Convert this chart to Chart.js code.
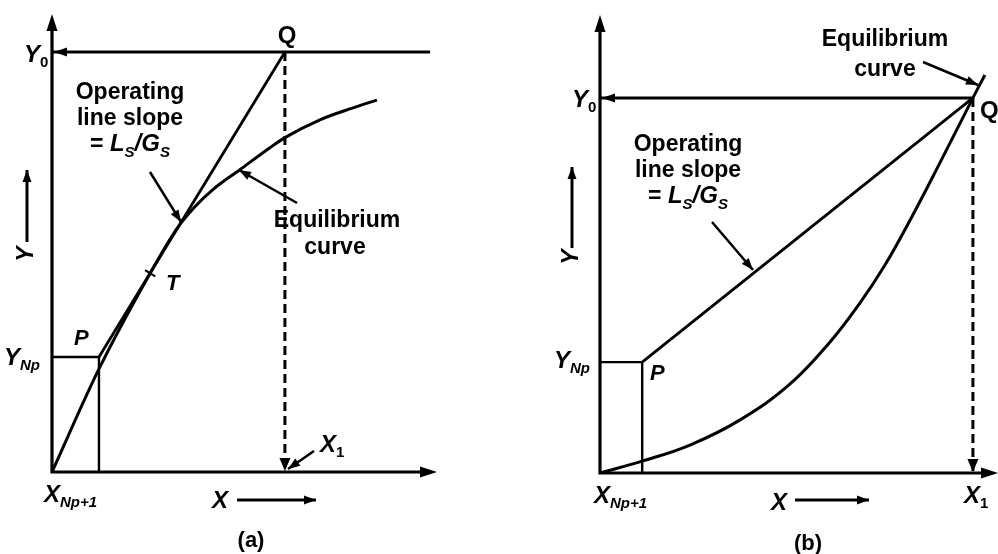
<!DOCTYPE html>
<html>
<head>
<meta charset="utf-8">
<script src="https://cdn.jsdelivr.net/npm/chart.js"></script>
<style>
  html, body { margin: 0; padding: 0; background: #fff; }
  #wrap { position: relative; width: 998px; height: 554px; overflow: hidden; }
  canvas { position: absolute; top: 0; }
  #chartA { left: 0; }
  #chartB { left: 500px; }
</style>
</head>
<body>
<div id="wrap">
  <canvas id="chartA" width="500" height="554"></canvas>
  <canvas id="chartB" width="498" height="554"></canvas>
</div>
<script>
// (a) equilibrium curve that bends over, operating line touches it at T
const eqAX = [0, 12.2, 25.5, 32.5, 37.0, 42.0, 48.8, 56.6, 60.5, 69.6, 78.2, 84.4];
const eqAY = [0, 22.5, 43.4, 53.2, 57.8, 61.8, 66.0, 70.8, 73.0, 76.9, 79.5, 81.2];
const opAX = [12.2, 60.5];      // P -> Q
const opAY = [25.1, 91.7];
const y0AEnd = 98.2;            // Y0 line runs past Q
const tA = [25.5, 43.4];        // tangent point T

// (b) equilibrium curve bending up to Q
const eqBX = [0, 10.6, 22.6, 35.2, 47.7, 57.8, 65.3, 71.6, 77.9, 85.4, 93.7, 96.7];
const eqBY = [0, 2.6, 6.1, 11.6, 19.4, 28.6, 37.1, 45.4, 55.2, 67.7, 81.9, 86.9];
const opBX = [10.6, 93.7];      // P -> Q
const opBY = [24.2, 81.9];

const F = '"Liberation Sans", Arial, Helvetica, sans-serif';
const TXT = 'bold 23px ' + F;
const IT = 'italic bold 24px ' + F;
const SUB = 'italic bold 15px ' + F;
const SUBU = 'bold 15px ' + F;

function pts(xs, ys) { return xs.map((x, i) => ({ x: x, y: ys[i] })); }

function lineSet(data, width, extra) {
  return Object.assign({
    data: data, showLine: true, borderColor: '#000', borderWidth: width,
    pointRadius: 0, fill: false
  }, extra || {});
}

function head(ctx, x, y, ang, len, wid) {
  ctx.save();
  ctx.translate(x, y);
  ctx.rotate(ang);
  ctx.beginPath();
  ctx.moveTo(0, 0);
  ctx.lineTo(-len, -wid / 2);
  ctx.lineTo(-len, wid / 2);
  ctx.closePath();
  ctx.fill();
  ctx.restore();
}

function pointer(ctx, x1, y1, x2, y2, w) {
  ctx.lineWidth = w || 2.5;
  ctx.beginPath();
  ctx.moveTo(x1, y1);
  ctx.lineTo(x2, y2);
  ctx.stroke();
  head(ctx, x2, y2, Math.atan2(y2 - y1, x2 - x1), 12, 9);
}

// text made of pieces: [text, font, dy]
function rich(ctx, x, y, parts, align) {
  let w = 0;
  parts.forEach(p => { ctx.font = p[1]; w += ctx.measureText(p[0]).width; });
  let cx = align === 'center' ? x - w / 2 : x;
  parts.forEach(p => {
    ctx.font = p[1];
    ctx.fillText(p[0], cx, y + (p[2] || 0));
    cx += ctx.measureText(p[0]).width;
  });
}

function slopeLabel(ctx, cx, y) {
  rich(ctx, cx, y - 52, [['Operating', TXT]], 'center');
  rich(ctx, cx, y - 26, [['line slope', TXT]], 'center');
  rich(ctx, cx, y, [['= ', TXT], ['L', IT], ['S', SUB, 6], ['/', IT], ['G', IT], ['S', SUB, 6]], 'center');
}

function yArrowLabel(ctx, x, yText, yFrom, yTo) {
  ctx.save();
  ctx.translate(x, yText);
  ctx.rotate(-Math.PI / 2);
  ctx.textAlign = 'center';
  ctx.textBaseline = 'middle';
  ctx.font = 'italic bold 23px ' + F;
  ctx.fillText('Y', 0, 0);
  ctx.restore();
  pointer(ctx, x, yFrom, x, yTo, 3);
}

function xArrowLabel(ctx, xText, yText, x1, x2, y) {
  rich(ctx, xText, yText, [['X', IT]], 'left');
  pointer(ctx, x1, y, x2, y, 3);
}

// axes, arrowheads and labels drawn over the datasets
function frame(opQX, opQY, labels) {
  return {
    id: 'frame',
    afterDatasetsDraw(chart) {
      const ctx = chart.ctx, a = chart.chartArea;
      const sx = chart.scales.x, sy = chart.scales.y;
      const x0 = sx.getPixelForValue(0), y0 = sy.getPixelForValue(0);
      ctx.save();
      ctx.fillStyle = '#000';
      ctx.strokeStyle = '#000';
      ctx.lineCap = 'butt';
      // axes
      ctx.lineWidth = 3.2;
      ctx.beginPath();
      ctx.moveTo(x0, y0 + 1.6);
      ctx.lineTo(x0, a.top + 10);
      ctx.moveTo(x0 - 1.6, y0);
      ctx.lineTo(a.right - 10, y0);
      ctx.stroke();
      head(ctx, x0, a.top, -Math.PI / 2, 17, 11);
      head(ctx, a.right, y0, 0, 17, 11);
      // Y0 arrow into the y axis, dashed drop to X1
      const qx = sx.getPixelForValue(opQX), qy = sy.getPixelForValue(opQY);
      head(ctx, x0 + 2, qy, Math.PI, 13, 9);
      head(ctx, qx, y0 - 1, Math.PI / 2, 13, 11);
      ctx.textBaseline = 'alphabetic';
      ctx.textAlign = 'left';
      labels(ctx, sx, sy);
      ctx.restore();
    }
  };
}

function makeChart(id, datasets, pad, plugin) {
  return new Chart(document.getElementById(id).getContext('2d'), {
    type: 'scatter',
    data: { datasets: datasets },
    options: {
      responsive: false,
      animation: false,
      events: [],
      layout: { padding: pad },
      scales: {
        x: { type: 'linear', min: 0, max: 100, display: false },
        y: { type: 'linear', min: 0, max: 100, display: false }
      },
      plugins: { legend: { display: false }, tooltip: { enabled: false } }
    },
    plugins: [plugin]
  });
}

makeChart('chartA', [
  lineSet(pts(eqAX, eqAY), 3, { cubicInterpolationMode: 'monotone' }),
  lineSet(pts(opAX, opAY), 2.8),
  lineSet([{ x: 0, y: opAY[0] }, { x: opAX[0], y: opAY[0] }, { x: opAX[0], y: 0 }], 2.4),
  lineSet([{ x: 0, y: opAY[1] }, { x: y0AEnd, y: opAY[1] }], 3),
  lineSet([{ x: opAX[1], y: opAY[1] }, { x: opAX[1], y: 0 }], 3, { borderDash: [9, 5] })
], { left: 52, right: 63, top: 14, bottom: 82 }, frame(opAX[1], opAY[1], (ctx, sx, sy) => {
  // tick across the line at T
  const tx = sx.getPixelForValue(tA[0]), ty = sy.getPixelForValue(tA[1]);
  ctx.lineWidth = 2.2;
  ctx.beginPath();
  ctx.moveTo(tx - 6 * 0.85, ty - 6 * 0.52);
  ctx.lineTo(tx + 6 * 0.85, ty + 6 * 0.52);
  ctx.stroke();

  rich(ctx, 287, 43, [['Q', 'bold 24px ' + F]], 'center');
  slopeLabel(ctx, 130, 151);
  pointer(ctx, 150, 172, 181, 222);
  rich(ctx, 337, 227, [['Equilibrium', TXT]], 'center');
  rich(ctx, 335, 254, [['curve', TXT]], 'center');
  pointer(ctx, 297, 203, 239, 170);
  rich(ctx, 166, 290, [['T', 'italic bold 22px ' + F]], 'left');
  rich(ctx, 74, 345, [['P', 'italic bold 22px ' + F]], 'left');
  rich(ctx, 24, 62, [['Y', IT], ['0', SUBU, 5]], 'left');
  rich(ctx, 4, 365, [['Y', IT], ['Np', SUB, 5]], 'left');
  rich(ctx, 44, 502, [['X', IT], ['Np+1', SUB, 5]], 'left');
  xArrowLabel(ctx, 212, 508, 237, 316, 500);
  rich(ctx, 320, 452, [['X', IT], ['1', SUBU, 5]], 'left');
  pointer(ctx, 314, 451, 288, 469);
  yArrowLabel(ctx, 27, 254, 242, 170);
  rich(ctx, 251, 547, [['(a)', 'bold 22px ' + F]], 'center');
}));

makeChart('chartB', [
  lineSet(pts(eqBX, eqBY), 3, { tension: 0.4 }),
  lineSet(pts(opBX, opBY), 2.8),
  lineSet([{ x: 0, y: opBY[0] }, { x: opBX[0], y: opBY[0] }, { x: opBX[0], y: 0 }], 2.4),
  lineSet([{ x: 0, y: opBY[1] }, { x: opBX[1], y: opBY[1] }], 3),
  lineSet([{ x: opBX[1], y: opBY[1] }, { x: opBX[1], y: 0 }], 3, { borderDash: [9, 5] })
], { left: 100, right: 0, top: 15, bottom: 81 }, frame(opBX[1], opBY[1], (ctx) => {
  rich(ctx, 385, 46, [['Equilibrium', TXT]], 'center');
  rich(ctx, 385, 76, [['curve', TXT]], 'center');
  pointer(ctx, 423, 62, 478, 85);
  rich(ctx, 480, 118, [['Q', 'bold 24px ' + F]], 'left');
  rich(ctx, 72, 107, [['Y', IT], ['0', SUBU, 5]], 'left');
  slopeLabel(ctx, 188, 203);
  pointer(ctx, 212, 222, 253, 270);
  yArrowLabel(ctx, 72, 257, 248, 167);
  rich(ctx, 54, 368, [['Y', IT], ['Np', SUB, 5]], 'left');
  rich(ctx, 150, 380, [['P', 'italic bold 22px ' + F]], 'left');
  rich(ctx, 94, 503, [['X', IT], ['Np+1', SUB, 5]], 'left');
  xArrowLabel(ctx, 271, 510, 295, 369, 500);
  rich(ctx, 464, 503, [['X', IT], ['1', SUBU, 5]], 'left');
  rich(ctx, 308, 550, [['(b)', 'bold 22px ' + F]], 'center');
}));
</script>
</body>
</html>
